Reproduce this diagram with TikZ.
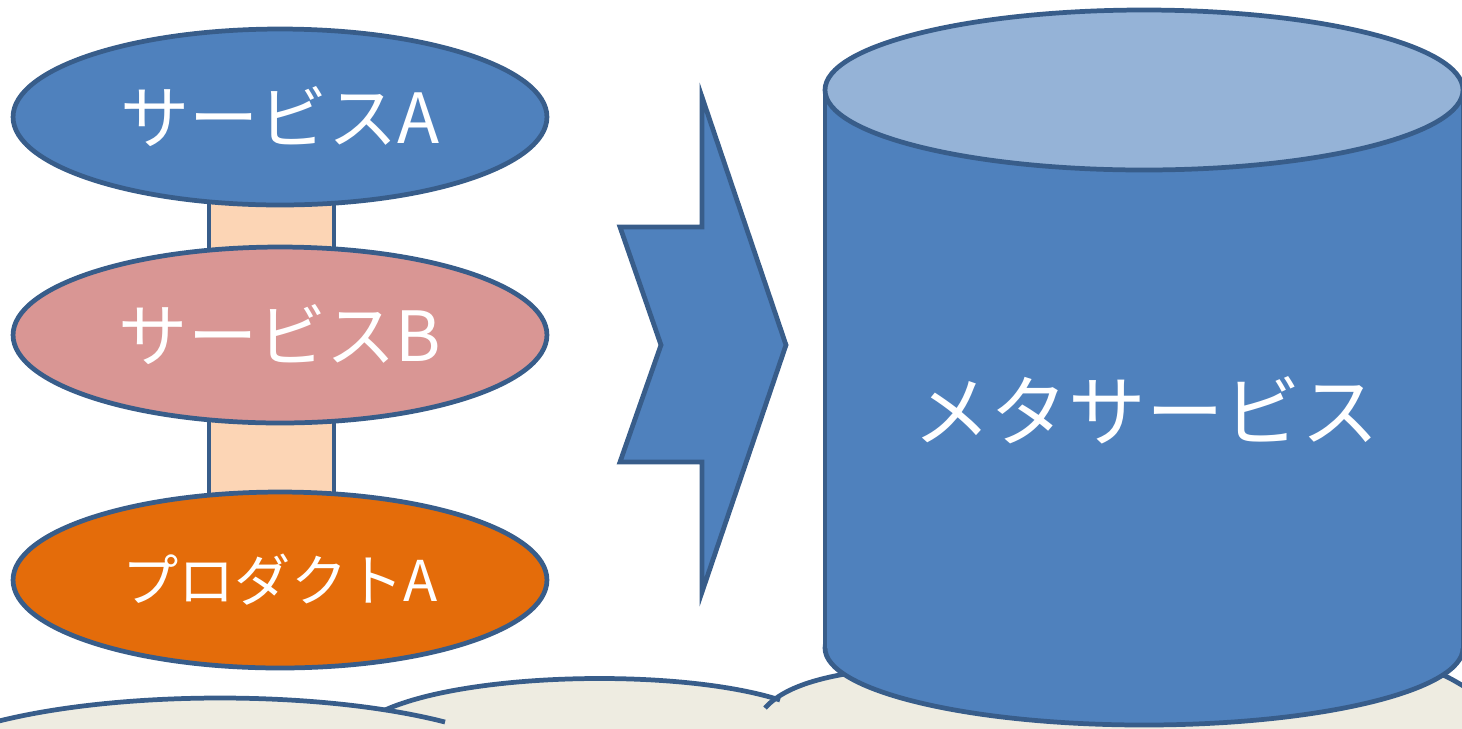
\documentclass[tikz,border=0pt]{standalone}
\usepackage{fontspec}
\setmainfont{Noto Sans CJK JP}
\usetikzlibrary{shapes.geometric,positioning,backgrounds}

\definecolor{edgeblue}{HTML}{385D8A}
\definecolor{srvblue}{HTML}{4F81BD}
\definecolor{srvpink}{HTML}{D99694}
\definecolor{prdorange}{HTML}{E46C0A}
\definecolor{toplight}{HTML}{95B3D7}
\definecolor{linkpeach}{HTML}{FCD5B5}
\definecolor{cloudgray}{HTML}{EEECE1}

\tikzset{
  layer/.style={ellipse, draw=edgeblue, line width=2.7pt, text=white,
    minimum width=10.68cm, minimum height=3.52cm, inner sep=0pt},
  link/.style={draw=edgeblue, line width=2.7pt, fill=linkpeach},
  edge/.style={draw=edgeblue, line width=2.7pt},
}

\begin{document}
\begin{tikzpicture}[x=0.02cm, y=-0.02cm]
\useasboundingbox (0,0) rectangle (1462,728);

    % service stack
    \node[layer, fill=srvblue, font=\fontsize{39.4}{41}\selectfont] (srvA) at (280,117) {サービスA};
    \node[layer, fill=srvpink, font=\fontsize{39.4}{41}\selectfont] (srvB) at (280,335) {サービスB};
    \node[layer, fill=prdorange, font=\fontsize{32}{34}\selectfont] (prdA) at (280,580) {プロダクトA};

    \begin{scope}[on background layer]
    \draw[link] ([xshift=-1.42cm]srvA.center) rectangle ([xshift=1.08cm]srvB.center);
    \draw[link] ([xshift=-1.42cm]srvB.center) rectangle ([xshift=1.08cm]prdA.center);
    \end{scope}

    % chevron
    \draw[edge, fill=srvblue, line join=miter]
      (702,97) -- (786,345) -- (702,592) -- (702,462) -- (620,462)
      -- (661,345) -- (620,227) -- (702,227) -- cycle;

    % clouds
    \fill[cloudgray] (765,708) .. controls (800,672) and (900,660) .. (1000,660)
      -- (1400,660) .. controls (1440,670) .. (1470,690) -- (1470,735) -- (765,735) -- cycle;
    \fill[cloudgray] (385,710) .. controls (470,672) and (680,668) .. (780,700)
      -- (780,735) -- (385,735) -- cycle;
    \fill[cloudgray] (-5,722) .. controls (120,690) and (320,690) .. (445,722)
      -- (445,735) -- (-5,735) -- cycle;
    \draw[edge] (765,708) .. controls (790,680) and (850,668) .. (950,665);
    \draw[edge] (1400,665) .. controls (1440,672) .. (1470,690);
    \draw[edge] (385,710) .. controls (470,672) and (680,668) .. (780,700);
    \draw[edge] (-5,722) .. controls (120,690) and (320,690) .. (445,722);

    % cylinder
    \draw[edge, fill=srvblue] (1144,648) ellipse [x radius=319, y radius=77];
    \fill[srvblue] (825,90) rectangle (1463,648);
    \draw[edge] (825,90) -- (825,648);
    \draw[edge] (1463,90) -- (1463,648);
    \draw[edge, fill=toplight] (1144,90) ellipse [x radius=319, y radius=80];

    \node[text=white, font=\fontsize{44.2}{46}\selectfont] (meta) at (1146,410) {メタサービス};

\end{tikzpicture}
\end{document}
